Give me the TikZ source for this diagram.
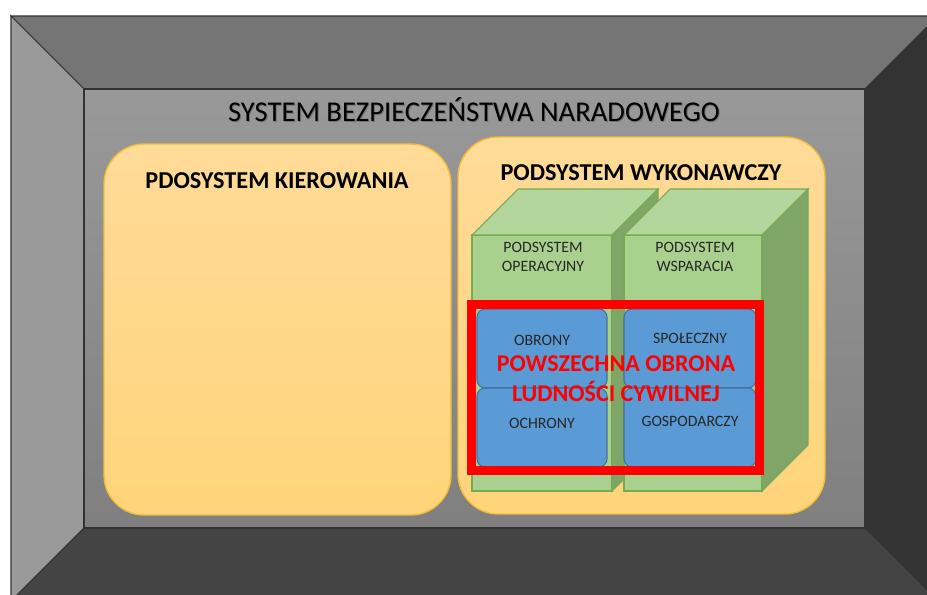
\documentclass[tikz,border=0pt]{standalone}
\usepackage{fontspec}
\setmainfont{Carlito}
\usepackage{tikz}
\usetikzlibrary{calc}
\definecolor{frtop}{RGB}{117,117,117}
\definecolor{frleft}{RGB}{154,154,154}
\definecolor{frright}{RGB}{51,51,51}
\definecolor{frbottom}{RGB}{68,68,68}
\definecolor{ortop}{RGB}{255,219,152}
\definecolor{orbot}{RGB}{255,212,122}
\definecolor{oredge}{RGB}{242,190,60}
\definecolor{grfront}{RGB}{169,209,142}
\definecolor{grtop}{RGB}{178,214,155}
\definecolor{grside}{RGB}{128,165,104}
\definecolor{gredge}{RGB}{118,170,80}
\definecolor{blfill}{RGB}{91,155,213}
\definecolor{bledge}{RGB}{65,113,156}
\tikzset{
  face/.style={draw=black!80, line width=0.6pt},
  obox/.style={draw=oredge, line width=0.8pt, rounded corners=0.8cm, top color=ortop, bottom color=orbot},
  bbox/.style={draw=bledge, line width=0.6pt, fill=blfill, rounded corners=0.16cm, minimum height=1.58cm},
  head/.style={font=\bfseries\fontsize{13.8}{16}\selectfont},
  lbl/.style={font=\fontsize{9}{11}\selectfont, text=black!85, align=center}
}
\begin{document}
\begin{tikzpicture}[x=0.02cm, y=-0.02cm]
\useasboundingbox (0,0) rectangle (927,595);
\clip (0,0) rectangle (927,595);

% Frame
\fill[white] (0,0) rectangle (927,595);
\filldraw[face, fill=frtop] (11,16) -- (938,16) -- (865,89) -- (84,89) -- cycle;
\filldraw[face, fill=frleft] (11,16) -- (84,89) -- (84,528) -- (11,601) -- cycle;
\filldraw[face, fill=frright] (938,16) -- (938,601) -- (865,528) -- (865,89) -- cycle;
\filldraw[face, fill=frbottom] (11,601) -- (84,528) -- (865,528) -- (938,601) -- cycle;
\shade[top color=black!40, bottom color=black!50] (84,89) rectangle (865,528);
\draw[face] (84,89) rectangle (865,528);

\node[font=\fontsize{16.3}{19}\selectfont, text=black!55] (sbns) at (475,111) {SYSTEM BEZPIECZEŃSTWA NARADOWEGO};
\node[font=\fontsize{16.3}{19}\selectfont, text=black] (sbn) at (474,110) {SYSTEM BEZPIECZEŃSTWA NARADOWEGO};

% Left subsystem
\node[obox, minimum width=6.94cm, minimum height=7.42cm] (kier) at (277.5,329.5) {};
\node[head] (kiert) at (277,181) {PDOSYSTEM KIEROWANIA};

% Right subsystem
\node[obox, minimum width=7.34cm, minimum height=7.54cm] (wyk) at (641.5,325.5) {};
\node[head] (wykt) at (641,173) {PODSYSTEM WYKONAWCZY};

% Cubes
\foreach \x/\w in {472/140, 624/138} {
  \filldraw[draw=gredge, line width=0.6pt, fill=grfront] (\x,235) rectangle (\x+\w,491);
  \filldraw[draw=gredge, line width=0.6pt, fill=grtop] (\x,235) -- (\x+46,189) -- (\x+\w+46,189) -- (\x+\w,235) -- cycle;
  \filldraw[draw=gredge, line width=0.6pt, fill=grside] (\x+\w,235) -- (\x+\w+46,189) -- (\x+\w+46,445) -- (\x+\w,491) -- cycle;
}
\node[lbl] (oper) at (543,257) {PODSYSTEM\\OPERACYJNY};
\node[lbl] (wspar) at (695,257) {PODSYSTEM\\WSPARACIA};

% Blue boxes
\node[bbox, minimum width=2.6cm] (obr) at (542,348.5) {};
\node[bbox, minimum width=2.6cm] (och) at (542,427.5) {};
\node[bbox, minimum width=2.64cm] (spo) at (690,348.5) {};
\node[bbox, minimum width=2.64cm] (gos) at (690,427.5) {};
\node[lbl] (obrt) at ([yshift=0.17cm]obr.center) {OBRONY};
\node[lbl] (spot) at ([yshift=0.2cm]spo.center) {SPOŁECZNY};
\node[lbl] (ocht) at ([yshift=0.08cm]och.center) {OCHRONY};
\node[lbl] (gost) at ([yshift=0.12cm]gos.center) {GOSPODARCZY};

% Red frame
\node[draw=red, line width=0.18cm, minimum width=5.76cm, minimum height=3.32cm] (pol) at (615.5,387.5) {};
\node[font=\bfseries\fontsize{13.7}{16}\selectfont, text=red, align=center] (polt) at (616,379) {POWSZECHNA OBRONA\\[1pt]LUDNOŚCI CYWILNEJ};
\end{tikzpicture}
\end{document}
